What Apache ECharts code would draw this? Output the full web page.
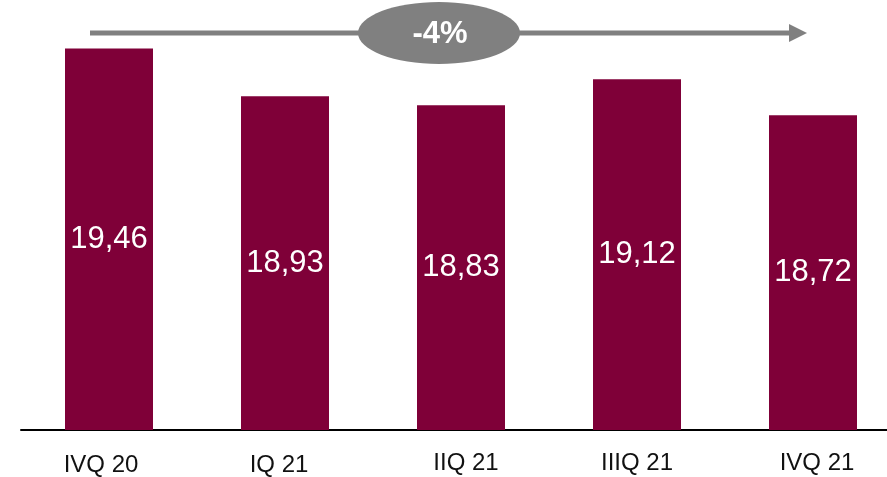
<!DOCTYPE html>
<html>
<head>
<meta charset="utf-8">
<style>
  html, body { margin: 0; padding: 0; background: #ffffff; overflow: hidden; width: 887px; height: 477px; }
  /* plot runs slightly past the right edge of the page */
  #chart { width: 901px; height: 477px; }
</style>
<script src="https://cdn.jsdelivr.net/npm/echarts@6/dist/echarts.min.js"></script>
</head>
<body>
<div id="chart"></div>
<script>
// Quarterly values
const quarters = ['IVQ 20', 'IQ 21', 'IIQ 21', 'IIIQ 21', 'IVQ 21'];
const values = [19.46, 18.93, 18.83, 19.12, 18.72];

// Change from first to last quarter, shown in the bubble on the arrow
const change = Math.round((values[values.length - 1] / values[0] - 1) * 100);
const changeText = (change > 0 ? '+' : '') + change + '%';

const FONT = '"Liberation Sans", Arial, sans-serif';
const BAR = '#7f0038';
const GREY = '#808080';

// Small per-label nudges [dx, dy] for the quarter names under the axis
const labelNudge = [[-8, 1], [-6, 1], [5, 0], [0, -1], [4, 0]];
const rich = {};
labelNudge.forEach(([dx, dy], i) => {
  rich['q' + i] = {
    fontFamily: FONT,
    fontSize: 24,
    color: '#111111',
    padding: [Math.max(dy, 0) * 2, Math.max(-dx, 0) * 2, Math.max(-dy, 0) * 2, Math.max(dx, 0) * 2]
  };
});

const chart = echarts.init(document.getElementById('chart'), null, { renderer: 'canvas' });

chart.setOption({
  animation: false,
  backgroundColor: '#ffffff',
  grid: { left: 21, right: 0, top: 0, bottom: 45, containLabel: false },
  xAxis: {
    type: 'category',
    data: quarters,
    axisLine: { show: true, lineStyle: { color: '#000000', width: 2 } },
    axisTick: { show: false },
    axisLabel: {
      color: '#111111',
      fontFamily: FONT,
      fontSize: 24,
      margin: 21,
      formatter: (v, i) => '{q' + i + '|' + v + '}',
      rich: rich
    }
  },
  yAxis: {
    type: 'value',
    min: 15.22,
    max: 20,
    show: false,
    splitLine: { show: false }
  },
  series: [{
    type: 'bar',
    data: values,
    barWidth: '50%',
    itemStyle: { color: BAR },
    label: {
      show: true,
      position: 'inside',
      color: '#ffffff',
      fontFamily: FONT,
      fontSize: 31,
      formatter: p => p.value.toFixed(2).replace('.', ',')
    }
  }],
  graphic: [
    {
      type: 'line',
      shape: { x1: 90, y1: 33, x2: 790, y2: 33 },
      style: { stroke: GREY, lineWidth: 5 }
    },
    {
      type: 'polygon',
      shape: { points: [[789, 24], [807, 33], [789, 42]] },
      style: { fill: GREY }
    },
    {
      type: 'ellipse',
      shape: { cx: 439, cy: 33, rx: 81, ry: 31 },
      style: { fill: GREY }
    },
    {
      type: 'text',
      x: 440,
      y: 34,
      style: {
        text: changeText,
        fill: '#ffffff',
        font: 'bold 31px ' + FONT,
        align: 'center',
        verticalAlign: 'middle'
      }
    }
  ]
});
</script>
</body>
</html>
